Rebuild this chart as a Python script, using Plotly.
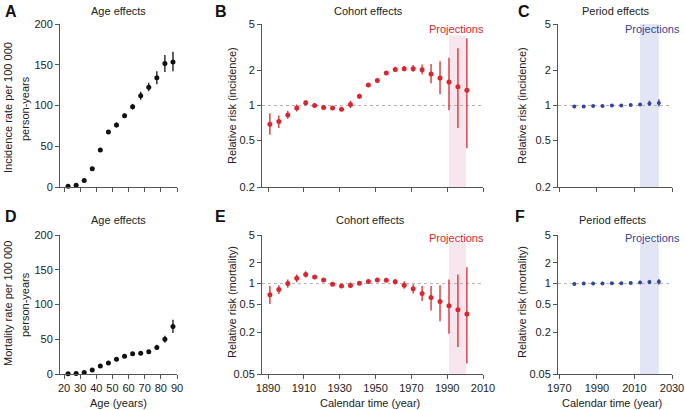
import plotly.graph_objects as go
import math

W, H = 685, 410

# ---------------- data ----------------
age = [22.5, 27.5, 32.5, 37.5, 42.5, 47.5, 52.5, 57.5, 62.5, 67.5, 72.5, 77.5, 82.5, 87.5]
inc_age = [1, 2, 8, 22.5, 45.5, 67.5, 76, 87.5, 98.5, 112, 122.5, 134, 151.5, 153.5]
inc_age_lo = [0.5, 1.5, 7, 21, 43.5, 65, 73, 84.5, 95, 107, 117.5, 126, 141, 142]
inc_age_hi = [1.5, 3, 9, 24, 47.5, 70, 79, 90.5, 102, 117, 128, 142, 162, 166]

mor_age = [0.3, 0.6, 2, 5.7, 11.4, 16, 21.4, 25.7, 29, 30, 32, 38, 50, 68.5]
mor_age_lo = [0.1, 0.3, 1.5, 5, 10.5, 15, 20, 24, 27.5, 28, 30, 34.5, 45, 59]
mor_age_hi = [0.5, 0.9, 2.5, 6.4, 12.3, 17, 22.8, 27.4, 30.5, 32, 34, 42, 55, 78]

cohort = [1891, 1896, 1901, 1906, 1911, 1916, 1921, 1926, 1931, 1936, 1941, 1946,
          1951, 1956, 1961, 1966, 1971, 1976, 1981, 1986, 1991, 1996, 2001]
inc_coh = [0.69, 0.73, 0.83, 0.95, 1.055, 1.0, 0.96, 0.95, 0.93, 1.02, 1.20, 1.50,
           1.64, 1.90, 2.04, 2.07, 2.07, 2.03, 1.86, 1.72, 1.59, 1.45, 1.35]
inc_coh_lo = [0.56, 0.64, 0.77, 0.89, 1.00, 0.97, 0.93, 0.92, 0.90, 0.95, 1.14, 1.45,
              1.59, 1.83, 1.94, 1.97, 1.95, 1.85, 1.55, 1.25, 0.91, 0.64, 0.43]
inc_coh_hi = [0.86, 0.82, 0.90, 1.02, 1.11, 1.04, 1.00, 0.99, 0.96, 1.10, 1.26, 1.55,
              1.69, 1.96, 2.15, 2.18, 2.22, 2.25, 2.27, 2.40, 2.57, 3.09, 3.77]

mor_coh = [0.69, 0.82, 1.0, 1.19, 1.35, 1.24, 1.13, 0.98, 0.92, 0.94, 1.01, 1.07,
           1.13, 1.12, 1.06, 0.95, 0.84, 0.72, 0.63, 0.55, 0.48, 0.42, 0.365]
mor_coh_lo = [0.51, 0.71, 0.87, 1.05, 1.22, 1.16, 1.06, 0.92, 0.87, 0.86, 0.95, 1.01,
              1.07, 1.05, 0.97, 0.84, 0.72, 0.56, 0.41, 0.286, 0.19, 0.122, 0.071]
mor_coh_hi = [0.92, 0.95, 1.14, 1.35, 1.50, 1.33, 1.20, 1.05, 0.98, 1.04, 1.08, 1.13,
              1.19, 1.19, 1.16, 1.08, 0.98, 0.92, 0.92, 0.95, 1.14, 1.35, 1.72]

period = [1978, 1983, 1988, 1993, 1998, 2003, 2008, 2013, 2018, 2023]
inc_per = [0.98, 0.98, 0.99, 0.99, 1.0, 1.0, 1.01, 1.02, 1.04, 1.05]
inc_per_lo = [0.97, 0.97, 0.98, 0.98, 0.99, 0.99, 1.0, 1.0, 0.99, 0.98]
inc_per_hi = [0.99, 0.99, 1.0, 1.0, 1.01, 1.01, 1.02, 1.05, 1.10, 1.13]

mor_per = [0.99, 1.0, 1.0, 1.0, 1.01, 1.01, 1.02, 1.04, 1.05, 1.06]
mor_per_lo = [0.97, 0.98, 0.98, 0.98, 0.99, 0.99, 0.99, 0.99, 0.98, 0.97]
mor_per_hi = [1.01, 1.02, 1.02, 1.02, 1.03, 1.03, 1.05, 1.10, 1.13, 1.16]

coh_proj = [1991, 2000.6]
per_proj = [2013, 2023]

age_ticks = [20, 30, 40, 50, 60, 70, 80, 90]
coh_ticks = [1890, 1910, 1930, 1950, 1970, 1990, 2010]
per_ticks = [1970, 1990, 2010, 2030]
rr_ticks_top = [0.2, 0.5, 1, 2, 5]
rr_ticks_bot = [0.05, 0.2, 0.5, 1, 2, 5]
rate_ticks = [0, 50, 100, 150, 200]

# ---------------- style ----------------
FONT = "Liberation Sans, Arial, Helvetica, sans-serif"
RED = "#D9262F"
BLUE = "#33449A"
BLACK = "#111111"
PINK = "#F8E6EF"
LBLUE = "#E1E5F5"
AX = "#555555"


def px(x):
    return x / W


def py(y):
    return 1 - y / H


fig = go.Figure()


def add_series(n, x, v, lo, hi, color, msize=5):
    fig.add_trace(go.Scatter(
        x=x, y=v, mode="markers", xaxis="x%d" % n, yaxis="y%d" % n,
        marker=dict(color=color, size=msize, symbol="circle"),
        error_y=dict(type="data", symmetric=False,
                     array=[h - a for h, a in zip(hi, v)],
                     arrayminus=[a - l for a, l in zip(v, lo)],
                     color=color, thickness=1.3, width=0),
        cliponaxis=False, showlegend=False, hoverinfo="x+y"))


add_series(1, age, inc_age, inc_age_lo, inc_age_hi, BLACK)
add_series(2, cohort, inc_coh, inc_coh_lo, inc_coh_hi, RED)
add_series(3, period, inc_per, inc_per_lo, inc_per_hi, BLUE, 4)
add_series(4, age, mor_age, mor_age_lo, mor_age_hi, BLACK)
add_series(5, cohort, mor_coh, mor_coh_lo, mor_coh_hi, RED)
add_series(6, period, mor_per, mor_per_lo, mor_per_hi, BLUE, 4)

top = [py(187), py(24)]
bot = [py(374), py(235)]
colA = [px(60), px(177)]
colB = [px(262), px(483)]
colC = [px(558), px(672)]


def xax(dom, rng, ticks, labels, anchor):
    return dict(domain=dom, range=rng, tickvals=ticks,
                ticktext=[str(t) for t in ticks] if labels else None,
                showticklabels=labels, showline=True, linecolor=AX, linewidth=1,
                ticks="outside", ticklen=4, tickcolor=AX, showgrid=False,
                zeroline=False, anchor=anchor, automargin=False,
                tickfont=dict(family=FONT, size=11, color="#222"))


def yax(dom, rng, ticks, log, anchor):
    d = dict(domain=dom, tickvals=ticks, ticktext=[str(t) for t in ticks],
             showline=True, linecolor=AX, linewidth=1, ticks="outside",
             ticklen=4, tickcolor=AX, showgrid=False, zeroline=False,
             anchor=anchor, automargin=False,
             tickfont=dict(family=FONT, size=11, color="#222"))
    if log:
        d["type"] = "log"
        d["range"] = [math.log10(rng[0]), math.log10(rng[1])]
    else:
        d["range"] = rng
    return d


layout = dict(
    width=W, height=H, margin=dict(l=0, r=0, t=0, b=0, pad=0),
    paper_bgcolor="white", plot_bgcolor="white",
    font=dict(family=FONT, size=11, color="#222"),
    xaxis=xax(colA, [17.5, 90], age_ticks, False, "y"),
    yaxis=yax(top, [0, 200], rate_ticks, False, "x"),
    xaxis2=xax(colB, [1886.6, 2010], coh_ticks, False, "y2"),
    yaxis2=yax(top, [0.2, 5], rr_ticks_top, True, "x2"),
    xaxis3=xax(colC, [1969.3, 2030], per_ticks, False, "y3"),
    yaxis3=yax(top, [0.2, 5], rr_ticks_top, True, "x3"),
    xaxis4=xax(colA, [17.5, 90], age_ticks, True, "y4"),
    yaxis4=yax(bot, [0, 200], rate_ticks, False, "x4"),
    xaxis5=xax(colB, [1886.6, 2010], coh_ticks, True, "y5"),
    yaxis5=yax(bot, [0.05, 5], rr_ticks_bot, True, "x5"),
    xaxis6=xax(colC, [1969.3, 2030], per_ticks, True, "y6"),
    yaxis6=yax(bot, [0.05, 5], rr_ticks_bot, True, "x6"),
)
fig.update_layout(**layout)

shapes = []
# projection shading
for n, rng, col, ytop in [(2, coh_proj, PINK, 0.93), (5, coh_proj, PINK, 0.95),
                          (3, per_proj, LBLUE, 1.0), (6, per_proj, LBLUE, 0.95)]:
    shapes.append(dict(type="rect", xref="x%d" % n, yref="y%d domain" % n,
                       x0=rng[0], x1=rng[1], y0=0, y1=ytop,
                       fillcolor=col, line=dict(width=0), layer="below"))
# reference line at RR = 1
for n in [2, 3, 5, 6]:
    shapes.append(dict(type="line", xref="x%d domain" % n, yref="y%d" % n,
                       x0=0, x1=1, y0=1, y1=1,
                       line=dict(color="#ABABAB", width=0.9, dash="dot"),
                       layer="below"))
fig.update_layout(shapes=shapes)

ann = []


def text(x, y, s, size=11, color="#222", angle=0, xanchor="center"):
    ann.append(dict(x=px(x), y=py(y), xref="paper", yref="paper", text=s,
                    showarrow=False, textangle=angle, xanchor=xanchor,
                    yanchor="middle",
                    font=dict(family=FONT, size=size, color=color)))


# panel letters
for lab, x, y in [("A", 3, 11), ("B", 213, 11), ("C", 516, 11),
                  ("D", 3, 216), ("E", 213, 216), ("F", 513, 216)]:
    text(x, y, "<b>%s</b>" % lab, size=16, color="#111", xanchor="left")

# titles
text(118, 11, "Age effects")
text(368, 11, "Cohort effects")
text(616, 11, "Period effects")
text(118, 220, "Age effects")
text(370, 220, "Cohort effects")
text(613, 220, "Period effects")

# projections labels
text(456, 29, "Projections", color=RED)
text(652, 29, "Projections", color=BLUE)
text(456, 238, "Projections", color=RED)
text(652, 238, "Projections", color=BLUE)

# y-axis titles
text(8, 108, "Incidence rate per 100 000", angle=-90)
text(25, 108, "person-years", angle=-90)
text(8, 304, "Mortality rate per 100 000", angle=-90)
text(25, 304, "person-years", angle=-90)
text(232, 106, "Relative risk (incidence)", angle=-90)
text(522, 106, "Relative risk (incidence)", angle=-90)
text(232, 302, "Relative risk (mortality)", angle=-90)
text(522, 302, "Relative risk (mortality)", angle=-90)

# x-axis titles
text(118, 403, "Age (years)")
text(370, 403, "Calendar time (year)")
text(612, 403, "Calendar time (year)")

fig.update_layout(annotations=ann)

fig.write_html("out.html",
               config={"displayModeBar": False},
               post_script="document.body.style.margin='0px';"
                           "document.body.style.overflow='hidden';")
